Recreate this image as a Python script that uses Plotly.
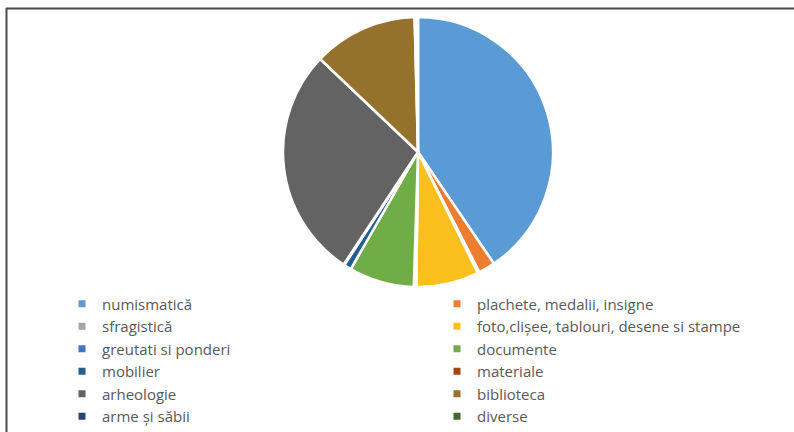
import plotly.graph_objects as go

categories = [
    "numismatică", "plachete, medalii, insigne", "sfragistică",
    "foto,clișee, tablouri, desene si stampe", "greutati si ponderi",
    "documente", "mobilier", "materiale", "arheologie", "biblioteca",
    "arme și săbii", "diverse",
]
values = [40.5, 2.0, 0.2, 7.5, 0.3, 7.8, 0.9, 0.1, 27.8, 12.5, 0.2, 0.2]
colors = ["#5B9BD5", "#ED7D31", "#A5A5A5", "#FBC01E", "#4472C4", "#70AD47",
          "#255E91", "#9E480E", "#636363", "#94722C", "#264478", "#43682B"]

W, H = 794, 432
cx, cy, r = 418, 152, 135

fig = go.Figure()
fig.add_trace(go.Pie(
    labels=categories, values=values, sort=False, direction="clockwise",
    rotation=0, textinfo="none", hoverinfo="label+percent",
    marker=dict(colors=colors, line=dict(color="white", width=2.5)),
    domain=dict(x=[(cx - r) / W, (cx + r) / W], y=[(H - cy - r) / H, (H - cy + r) / H]),
    showlegend=False,
))
for name, col in zip(categories, colors):
    fig.add_trace(go.Scatter(
        x=[None], y=[None], mode="markers", name=name,
        marker=dict(symbol="square", size=7, color=col),
        hoverinfo="skip",
    ))

fig.update_layout(
    width=W, height=H, margin=dict(l=0, r=0, t=0, b=0, autoexpand=False),
    paper_bgcolor="white", plot_bgcolor="white",
    xaxis=dict(visible=False), yaxis=dict(visible=False),
    font=dict(family="Open Sans, Liberation Sans, sans-serif", color="#595959", size=15),
    legend=dict(
        orientation="h", x=62 / W, xanchor="left", y=1 - 287.5 / H, yanchor="top",
        xref="paper", yref="paper",
        entrywidth=330, entrywidthmode="pixels", itemwidth=30,
        itemsizing="trace", bgcolor="rgba(0,0,0,0)", traceorder="normal",
        font=dict(size=15, color="#595959"),
    ),
    shapes=[
        dict(type="line", xref="paper", yref="paper", x0=6 / W, x1=1, y0=1 - 8.5 / H, y1=1 - 8.5 / H,
             line=dict(color="#4a4a4a", width=2)),
        dict(type="line", xref="paper", yref="paper", x0=6.5 / W, x1=6.5 / W, y0=0, y1=1 - 8 / H,
             line=dict(color="#4a4a4a", width=2)),
    ],
)
fig.write_html("out.html", config={"displayModeBar": False},
               post_script="document.body.style.margin='0';document.body.style.overflow='hidden';")
